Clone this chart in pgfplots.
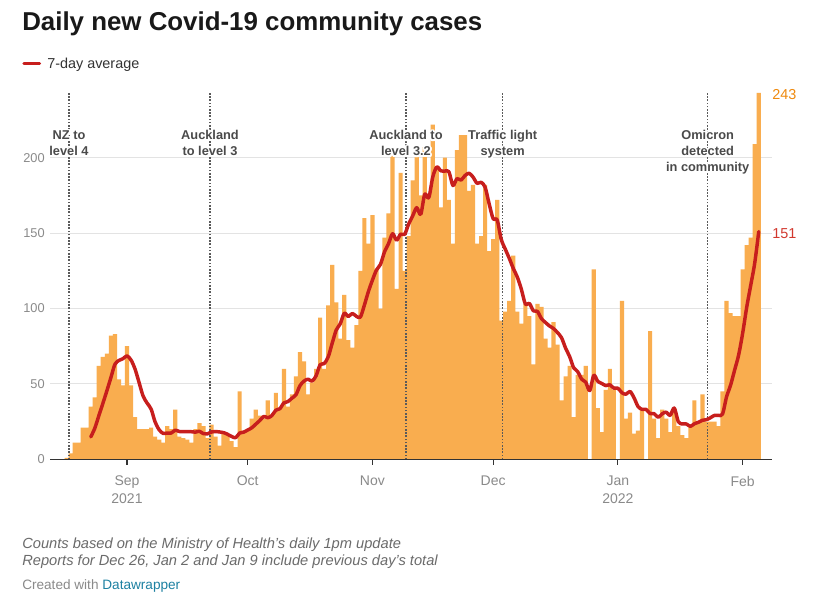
\documentclass[border=0pt]{standalone}
\usepackage{pgfplots}
\pgfplotsset{compat=1.18}
\usepackage{pgfplotstable}
\usepackage{fontspec}
\setmainfont{Liberation Sans}
\newif\ifhavecontour
\IfFileExists{contour.sty}{\havecontourtrue}{}
\ifhavecontour
\usepackage[copies]{contour}\contourlength{1.3pt}
\newcommand\halo[1]{\contour{white}{#1}}
\else
\newcommand\halo[1]{#1}
\fi

\definecolor{barc}{HTML}{F9AD4F}
\definecolor{linec}{HTML}{C71E1D}
\definecolor{labA}{HTML}{EF8A0E}
\definecolor{labB}{HTML}{D2382E}
\definecolor{tickc}{HTML}{8A8A8A}
\definecolor{evc}{HTML}{4A4A4A}
\definecolor{dotc}{HTML}{5A5A5A}
\definecolor{gridc}{HTML}{E3E3E3}
\definecolor{footc}{HTML}{6B6B6B}
\definecolor{credc}{HTML}{8A8A8A}
\definecolor{dwc}{HTML}{1D81A2}
\definecolor{axc}{HTML}{333333}

% daily cases, d = days from 1 Sep 2021
\pgfplotstableread{
d v
-15 1
-14 4
-13 11
-12 11
-11 21
-10 21
-9 35
-8 41
-7 62
-6 68
-5 70
-4 82
-3 83
-2 53
-1 49
0 75
1 49
2 28
3 20
4 20
5 20
6 21
7 15
8 13
9 11
10 22
11 20
12 33
13 15
14 14
15 13
16 11
17 20
18 24
19 22
20 14
21 23
22 15
23 9
24 17
25 16
26 12
27 8
28 45
29 19
30 19
31 27
32 33
33 29
34 27
35 39
36 29
37 44
38 34
39 60
40 35
41 43
42 55
43 71
44 65
45 43
46 51
47 60
48 94
49 60
50 102
51 129
52 104
53 80
54 109
55 79
56 74
57 89
58 125
59 160
60 143
61 162
62 126
63 100
64 147
65 163
66 206
67 113
68 190
69 125
70 148
71 185
72 201
73 175
74 207
75 173
76 222
77 194
78 167
79 200
80 172
81 143
82 205
83 215
84 215
85 178
86 182
87 143
88 148
89 182
90 138
91 146
92 172
93 92
94 98
95 105
96 135
97 98
98 90
99 103
100 95
101 63
102 103
103 101
104 80
105 74
106 91
107 76
108 39
109 55
110 62
111 28
112 56
113 56
114 62
115 0
116 126
117 34
118 18
119 46
120 60
121 46
122 0
123 105
124 27
125 31
126 17
127 19
128 33
129 0
130 85
131 27
132 14
133 33
134 27
135 18
136 34
137 22
138 16
139 14
140 22
141 39
142 25
143 43
144 25
145 25
146 25
147 22
148 45
149 105
150 97
151 95
152 95
153 126
154 142
155 147
156 209
157 243
}\bars

% 7-day average
\pgfplotstableread{
d a
-9 14.86
-8 20.57
-7 28.86
-6 37.00
-5 45.43
-4 54.14
-3 63.00
-2 65.57
-1 66.71
0 68.57
1 65.86
2 59.86
3 51.00
4 42.00
5 37.29
6 33.29
7 24.71
8 19.57
9 17.14
10 17.43
11 17.43
12 19.29
13 18.43
14 18.29
15 18.29
16 18.29
17 18.00
18 18.57
19 17.00
20 16.86
21 18.14
22 18.43
23 18.14
24 17.71
25 16.57
26 15.14
27 14.29
28 17.43
29 18.00
30 19.43
31 20.86
32 23.29
33 25.71
34 28.43
35 27.57
36 29.00
37 32.57
38 33.57
39 37.43
40 38.29
41 40.57
42 42.86
43 48.86
44 51.86
45 53.14
46 51.86
47 55.43
48 62.71
49 63.43
50 67.86
51 77.00
52 85.71
53 89.86
54 96.86
55 94.71
56 96.71
57 94.86
58 94.29
59 102.29
60 111.29
61 118.86
62 125.57
63 129.29
64 137.57
65 143.00
66 149.57
67 145.29
68 149.29
69 149.14
70 156.00
71 161.43
72 166.86
73 162.43
74 175.86
75 173.43
76 187.29
77 193.86
78 191.29
79 191.14
80 190.71
81 181.57
82 186.14
83 185.14
84 188.14
85 189.71
86 187.14
87 183.00
88 183.71
89 180.43
90 169.43
91 159.57
92 158.71
93 145.86
94 139.43
95 133.29
96 126.57
97 120.86
98 112.86
99 103.00
100 103.43
101 98.43
102 98.14
103 93.29
104 90.71
105 88.43
106 86.71
107 84.00
108 80.57
109 73.71
110 68.14
111 60.71
112 58.14
113 53.14
114 51.14
115 45.57
116 55.71
117 51.71
118 50.29
119 48.86
120 49.43
121 47.14
122 47.14
123 44.14
124 43.14
125 45.00
126 40.86
127 35.00
128 33.14
129 33.14
130 30.29
131 30.29
132 27.86
133 30.14
134 31.29
135 29.14
136 34.00
137 25.00
138 23.43
139 23.43
140 21.86
141 23.57
142 24.57
143 25.86
144 26.29
145 27.57
146 29.14
147 29.14
148 30.00
149 41.43
150 49.14
151 59.14
152 69.14
153 83.57
154 100.71
155 115.29
156 130.14
157 151.00
}\avg

\newcommand{\evfont}{\fontsize{9.6pt}{11pt}\selectfont\bfseries}

\begin{document}
\begin{tikzpicture}
\begin{scope}[x=0.75pt,y=-0.75pt]
\path[fill=white] (0,0) rectangle (817,599);
\node[anchor=base west, inner sep=0pt, font=\fontsize{19.4pt}{23pt}\selectfont\bfseries, text=black!90] at (22,31) {Daily new Covid-19 community cases};
\draw[linec, line width=2.6pt, line cap=round] (24,63.3) -- (39.5,63.3);
\node[anchor=base west, inner sep=0pt, font=\fontsize{10.8pt}{13pt}\selectfont, text=axc] at (47,68.3) {7-day average};
\node[anchor=base west, inner sep=0pt, font=\fontsize{11pt}{13pt}\selectfont\itshape, text=footc] at (22,548.3) {Counts based on the Ministry of Health's daily 1pm update};
\node[anchor=base west, inner sep=0pt, font=\fontsize{11pt}{13pt}\selectfont\itshape, text=footc] at (22,565.5) {Reports for Dec 26, Jan 2 and Jan 9 include previous day's total};
\node[anchor=base west, inner sep=0pt, font=\fontsize{10.2pt}{12pt}\selectfont, text=credc] at (22,589.3) {Created with \textcolor{dwc}{Datawrapper}};
\node[anchor=west, inner sep=0pt, font=\fontsize{10.8pt}{13pt}\selectfont, text=labA] at (772,95) {243};
\node[anchor=west, inner sep=0pt, font=\fontsize{10.8pt}{13pt}\selectfont, text=labB] at (772,234) {151};
\end{scope}

\begin{axis}[
  at={(37.5pt,-344.475pt)}, anchor=south west,
  scale only axis, width=541.125pt, height=275.4pt,
  xmin=-19.13, xmax=160.17, ymin=0, ymax=243.5,
  axis line style={draw=none},
  tick style={draw=none},
  /pgf/number format/assume math mode=true,
  xtick={0,30,61,91,122,153},
  xticklabels={{Sep\\2021},Oct,Nov,Dec,{Jan\\2022},Feb},
  xticklabel style={align=center, font=\fontsize{10.5pt}{13.5pt}\selectfont, text=tickc, anchor=north, inner sep=0pt, yshift=-12.3pt},
  ytick={0,50,100,150,200},
  yticklabel style={font=\fontsize{9.6pt}{11pt}\selectfont, text=tickc, anchor=east, inner sep=0pt, xshift=-3.75pt},
  ymajorgrids, grid style={gridc, line width=0.75pt},
  clip=false,
]
\addplot[ybar, bar width=1.04, fill=barc, draw=none] table[x=d, y=v] {\bars};

\draw[dotc, line width=1.1pt, dash pattern=on 1.1pt off 1.3pt] (axis cs:-14.41,0) -- (axis cs:-14.41,243.5);
\draw[dotc, line width=1.1pt, dash pattern=on 1.1pt off 1.3pt] (axis cs:20.63,0) -- (axis cs:20.63,243.5);
\draw[dotc, line width=1.1pt, dash pattern=on 1.1pt off 1.3pt] (axis cs:69.33,0) -- (axis cs:69.33,243.5);
\draw[dotc, line width=1.1pt, dash pattern=on 1.1pt off 1.3pt] (axis cs:93.36,0) -- (axis cs:93.36,243.5);
\draw[dotc, line width=1.1pt, dash pattern=on 1.1pt off 1.3pt] (axis cs:144.31,0) -- (axis cs:144.31,243.5);

\addplot[linec, line width=2.6pt, smooth, line cap=round, line join=round] table[x=d, y=a] {\avg};

\node[anchor=base, inner sep=0pt, font=\evfont, text=evc] at (axis cs:-14.41,211.8) {\halo{NZ to}};
\node[anchor=base, inner sep=0pt, font=\evfont, text=evc] at (axis cs:-14.41,201.2) {\halo{level 4}};
\node[anchor=base, inner sep=0pt, font=\evfont, text=evc] at (axis cs:20.63,211.8) {\halo{Auckland}};
\node[anchor=base, inner sep=0pt, font=\evfont, text=evc] at (axis cs:20.63,201.2) {\halo{to level 3}};
\node[anchor=base, inner sep=0pt, font=\evfont, text=evc] at (axis cs:69.33,211.8) {\halo{Auckland to}};
\node[anchor=base, inner sep=0pt, font=\evfont, text=evc] at (axis cs:69.33,201.2) {\halo{level 3.2}};
\node[anchor=base, inner sep=0pt, font=\evfont, text=evc] at (axis cs:93.36,211.8) {\halo{Traffic light}};
\node[anchor=base, inner sep=0pt, font=\evfont, text=evc] at (axis cs:93.36,201.2) {\halo{system}};
\node[anchor=base, inner sep=0pt, font=\evfont, text=evc] at (axis cs:144.31,211.8) {\halo{Omicron}};
\node[anchor=base, inner sep=0pt, font=\evfont, text=evc] at (axis cs:144.31,201.2) {\halo{detected}};
\node[anchor=base, inner sep=0pt, font=\evfont, text=evc] at (axis cs:144.31,190.6) {\halo{in community}};

\draw[axc, line width=1.1pt] (rel axis cs:0,0) -- (rel axis cs:1,0);
\pgfplotsinvokeforeach{0,30,61,91,122,153}{\draw[axc, line width=0.8pt] (axis cs:#1,0) -- ([yshift=-3.9pt]axis cs:#1,0);}
\end{axis}
\end{tikzpicture}
\end{document}
